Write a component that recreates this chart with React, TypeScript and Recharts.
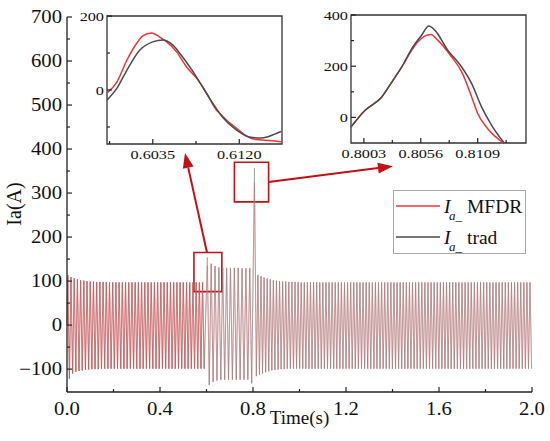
import React from 'react';
import { LineChart, Line, XAxis, YAxis, ReferenceArea, ReferenceLine, Legend } from 'recharts';

// Main trace: one peak and one trough per cycle.
const PRE_PERIOD = 0.0138;
const FAULT_START = 0.6;
const FAULT_FIRST_PEAK = 0.6035;
const FAULT_PERIOD = 0.0166;
const SPIKE_T = 0.8063;
const SPIKE_TROUGH_T = 0.8145;
const POST_PERIOD = 0.0133;

const prePeaks = [
  113, 109, 106, 104, 102, 101, 100, 99, 99, 98,
  98, 98, 98, 97, 97, 97, 97, 97, 97, 97,
  97, 97, 97, 97, 97, 97, 97, 97, 97, 97,
  97, 97, 97, 97, 97, 97, 97, 97, 97, 97,
  97, 97, 97,
];
const preTroughs = [
  -122, -110, -106, -104, -103, -102, -101, -100, -100, -100,
  -99, -99, -99, -99, -99, -99, -99, -99, -99, -99,
  -99, -99, -99, -99, -99, -99, -99, -99, -99, -99,
  -99, -99, -99, -99, -99, -99, -99, -99, -99, -99,
  -99, -99, -99,
];

const faultPeaksMfdr = [154, 140, 134, 131, 130, 130, 130, 130, 130, 129, 129, 129];
const faultPeaksTrad = [135, 139, 134, 131, 130, 130, 130, 130, 130, 129, 129, 129];
const faultTroughs = [-136, -129, -126, -125, -124, -124, -124, -124, -124, -124, -124, -132];

const spikeMfdr = 324;
const spikeTrad = 357;
const spikeTrough = -116;

const postPeaks = [
  114, 111, 108, 106, 104, 102, 101, 100, 99, 99,
  98, 98, 98, 98, 97, 97, 97, 97, 97, 97,
  97, 97, 97, 97, 97, 97, 97, 97, 97, 97,
  97, 97, 97, 97, 97, 97, 97, 97, 97, 97,
  97, 97, 97, 97, 97, 97, 97, 97, 97, 97,
  97, 97, 97, 97, 97, 97, 97, 97, 97, 97,
  97, 97, 97, 97, 97, 97, 97, 97, 97, 97,
  97, 97, 97, 97, 97, 97, 97, 97, 97, 97,
  97, 97, 97, 97, 97, 97, 97, 97, 97,
];
const postTroughs = [
  -113, -110, -107, -105, -103, -102, -101, -100, -100, -99,
  -99, -99, -99, -99, -99, -99, -99, -99, -99, -99,
  -99, -99, -99, -99, -99, -99, -99, -99, -99, -99,
  -99, -99, -99, -99, -99, -99, -99, -99, -99, -99,
  -99, -99, -99, -99, -99, -99, -99, -99, -99, -99,
  -99, -99, -99, -99, -99, -99, -99, -99, -99, -99,
  -99, -99, -99, -99, -99, -99, -99, -99, -99, -99,
  -99, -99, -99, -99, -99, -99, -99, -99, -99, -99,
  -99, -99, -99, -99, -99, -99, -99, -99, -99,
];

// zoomed views
const leftMfdrT = [0.59901, 0.59998, 0.60096, 0.60194, 0.60252, 0.6034, 0.60418, 0.60487, 0.60584, 0.60682, 0.6078, 0.60878, 0.60975, 0.61005, 0.61073, 0.61171, 0.61268, 0.61327, 0.61425, 0.61542, 0.6161];
const leftMfdrV = [-8, 22, 81, 127, 146, 154, 143, 130, 103, 62, 32, -8, -54, -62, -81, -103, -124, -132, -135, -138, -140];
const leftTradT = [0.59901, 0.59998, 0.60096, 0.60223, 0.6035, 0.60448, 0.60545, 0.60643, 0.6078, 0.60907, 0.61034, 0.61171, 0.61298, 0.61415, 0.61474, 0.61542, 0.6161];
const leftTradV = [-27, 5, 54, 108, 130, 135, 122, 89, 35, -22, -73, -108, -127, -130, -127, -120, -112];

const rightMfdrT = [0.79909, 0.80039, 0.80197, 0.8029, 0.80383, 0.80476, 0.80532, 0.80653, 0.80718, 0.80848, 0.80941, 0.81034, 0.8109, 0.81183, 0.81341];
const rightMfdrV = [-38, 27, 80, 138, 197, 263, 295, 324, 302, 236, 178, 80, 15, -44, -102];
const rightTradT = [0.79909, 0.80039, 0.80197, 0.8029, 0.80383, 0.80476, 0.80569, 0.80634, 0.8069, 0.80811, 0.80941, 0.81034, 0.81127, 0.8122, 0.81341];
const rightTradV = [-38, 27, 80, 138, 197, 269, 322, 357, 341, 263, 197, 132, 40, -31, -102];

const mainXTicks = [0, 0.2, 0.4, 0.6, 0.8, 1.0, 1.2, 1.4, 1.6, 1.8, 2.0];
const mainXLabels = [0, 0.4, 0.8, 1.2, 1.6, 2.0];
const mainYTicks = [-100, -50, 0, 50, 100, 150, 200, 250, 300, 350, 400, 450, 500, 550, 600, 650, 700];
const mainYLabels = [-100, 0, 100, 200, 300, 400, 500, 600, 700];

const leftXTicks = [0.59925, 0.6035, 0.60775, 0.612];
const leftXLabels = [0.6035, 0.612];
const leftYTicks = [-100, 0, 100, 200];
const leftYLabels = [0, 200];

const rightXTicks = [0.80295, 0.8003, 0.8056, 0.80825, 0.8109, 0.81355];
const rightXLabels = [0.8003, 0.8056, 0.8109];
const rightYTicks = [0, 100, 200, 300, 400];
const rightYLabels = [0, 200, 400];

const FONT = "'Times New Roman', 'Liberation Serif', Times, 'DejaVu Serif', serif";
const RED = '#f03434';
const GRAY = '#4a4a4a';
const BOX_RED = '#c40f14';

type Row = { t: number; mfdr: number; trad: number; mfdrPre?: number };

function buildMain() {
  const rows: Row[] = [{ t: 0, mfdr: 0, trad: 0 }];
  prePeaks.forEach((p, i) => {
    rows.push({ t: (i + 0.25) * PRE_PERIOD, mfdr: p, trad: p });
    rows.push({ t: (i + 0.75) * PRE_PERIOD, mfdr: preTroughs[i], trad: preTroughs[i] });
  });
  faultPeaksMfdr.forEach((p, i) => {
    rows.push({ t: FAULT_FIRST_PEAK + i * FAULT_PERIOD, mfdr: p, trad: faultPeaksTrad[i] });
    rows.push({ t: FAULT_FIRST_PEAK + (i + 0.5) * FAULT_PERIOD, mfdr: faultTroughs[i], trad: faultTroughs[i] });
  });
  rows.push({ t: SPIKE_T, mfdr: spikeMfdr, trad: spikeTrad });
  rows.push({ t: SPIKE_TROUGH_T, mfdr: spikeTrough, trad: spikeTrough });
  postPeaks.forEach((p, i) => {
    rows.push({ t: SPIKE_TROUGH_T + (i + 0.5) * POST_PERIOD, mfdr: p, trad: p });
    rows.push({ t: SPIKE_TROUGH_T + (i + 1) * POST_PERIOD, mfdr: postTroughs[i], trad: postTroughs[i] });
  });
  // the red trace sits on top before the fault, the grey one after it
  rows.forEach((r) => {
    if (r.t < FAULT_START) r.mfdrPre = r.mfdr;
  });
  return rows;
}

const zip = (ts: number[], vs: number[]) => ts.map((t, i) => ({ t, v: vs[i] }));

const mainRows = buildMain();
const has = (list: number[], v: number) => list.some((l) => Math.abs(l - v) < 1e-7);
const txt = { fontFamily: FONT, fill: '#111' };

// ticks point inward, labels are slightly wide in the picture
const makeXTick = (labels: number[], bottom: number, size: number, sx: number, digits: number, gap: number) =>
  (props: any) => {
    const { x, payload } = props;
    const major = has(labels, payload.value);
    return (
      <g>
        <line x1={x} x2={x} y1={bottom} y2={bottom - (major ? 5 : 3)} stroke="#222" strokeWidth={1.2} />
        {major && (
          <text transform={`translate(${x},${bottom + gap}) scale(${sx},1)`} textAnchor="middle" style={{ ...txt, fontSize: size }}>
            {payload.value.toFixed(digits)}
          </text>
        )}
      </g>
    );
  };

const makeYTick = (labels: number[], left: number, size: number, sx: number, gap: number) =>
  (props: any) => {
    const { y, payload } = props;
    const major = has(labels, payload.value);
    const v = payload.value < 0 ? `\u2212${-payload.value}` : `${payload.value}`;
    return (
      <g>
        <line x1={left} x2={left + (major ? 5 : 3)} y1={y} y2={y} stroke="#222" strokeWidth={1.2} />
        {major && (
          <text transform={`translate(${left - gap},${y}) scale(${sx},1)`} dy="0.35em" textAnchor="end" style={{ ...txt, fontSize: size }}>
            {v}
          </text>
        )}
      </g>
    );
  };

const arrowShape = (props: any) => {
  const { x1, y1, x2, y2 } = props;
  const a = Math.atan2(y2 - y1, x2 - x1);
  const len = 15;
  const half = 5.5;
  const bx = x2 - len * Math.cos(a);
  const by = y2 - len * Math.sin(a);
  const px = -Math.sin(a) * half;
  const py = Math.cos(a) * half;
  return (
    <g>
      <line x1={x1} y1={y1} x2={bx} y2={by} stroke={BOX_RED} strokeWidth={2} />
      <polygon points={`${x2},${y2} ${bx + px},${by + py} ${bx - px},${by - py}`} fill={BOX_RED} />
    </g>
  );
};

const renderLegend = (props: any) => {
  const items = (props.payload || []).filter((it: any) => it.type !== 'none');
  return (
    <div style={{ width: 131, height: 62, border: '1px solid #a8a8a8', background: '#fff' }}>
      <svg width={131} height={62}>
        {items.map((it: any, i: number) => {
          const ly = 15 + i * 31;
          return (
            <g key={i}>
              <line x1={2} x2={46} y1={ly} y2={ly} stroke={i === 0 ? RED : GRAY} strokeWidth={1.5} />
              <text y={ly + 7} style={{ ...txt, fontSize: 19.5 }}>
                <tspan x={50} fontStyle="italic">I</tspan>
                <tspan x={55} dy={7} fontSize={13} fontStyle="italic">a_</tspan>
                <tspan x={73} dy={-7}>{it.value}</tspan>
              </text>
            </g>
          );
        })}
      </svg>
    </div>
  );
};

const timeLabel = (props: any) => {
  const vb = props.viewBox || { x: 67, width: 465 };
  return (
    <text x={vb.x + vb.width / 2} y={424} textAnchor="middle" style={{ ...txt, fontSize: 19 }}>
      Time(s)
    </text>
  );
};

const currentLabel = () => (
  <text transform="translate(21,204) rotate(-90)" textAnchor="middle" style={{ ...txt, fontSize: 20 }}>
    Ia(A)
  </text>
);

function LeftInset() {
  return (
    <div style={{ position: 'absolute', left: 60, top: 0 }}>
      <LineChart width={230} height={175} margin={{ top: 16, right: 8, bottom: 6, left: 0 }}>
        <XAxis dataKey="t" type="number" domain={[0.599, 0.6162]} allowDataOverflow ticks={leftXTicks} interval={0}
          tick={makeXTick(leftXLabels, 144, 13, 1.25, 4, 15)} tickLine={false} axisLine={false} height={25} />
        <YAxis type="number" domain={[-146, 200]} allowDataOverflow ticks={leftYTicks} interval={0}
          tick={makeYTick(leftYLabels, 47, 13, 1.25, 3)} tickLine={false} axisLine={false} width={47} />
        <ReferenceArea x1={0.599} x2={0.6162} y1={-146} y2={200} fill="none" stroke="#333" strokeWidth={1.3} />
        <Line data={zip(leftMfdrT, leftMfdrV)} dataKey="v" type="monotone" stroke={RED} strokeWidth={1.5} dot={false} isAnimationActive={false} />
        <Line data={zip(leftTradT, leftTradV)} dataKey="v" type="monotone" stroke={GRAY} strokeWidth={1.5} dot={false} isAnimationActive={false} />
      </LineChart>
    </div>
  );
}

function RightInset() {
  return (
    <div style={{ position: 'absolute', left: 300, top: 0 }}>
      <LineChart width={235} height={175} margin={{ top: 15, right: 9, bottom: 7, left: 0 }}>
        <XAxis dataKey="t" type="number" domain={[0.7991, 0.8154]} allowDataOverflow ticks={rightXTicks} interval={0}
          tick={makeXTick(rightXLabels, 143, 13, 1.25, 4, 15)} tickLine={false} axisLine={false} height={25} />
        <YAxis type="number" domain={[-100, 400]} allowDataOverflow ticks={rightYTicks} interval={0}
          tick={makeYTick(rightYLabels, 51, 13, 1.25, 3)} tickLine={false} axisLine={false} width={51} />
        <ReferenceArea x1={0.7991} x2={0.8154} y1={-100} y2={400} fill="none" stroke="#333" strokeWidth={1.3} />
        <Line data={zip(rightMfdrT, rightMfdrV)} dataKey="v" type="monotone" stroke={RED} strokeWidth={1.5} dot={false} isAnimationActive={false} />
        <Line data={zip(rightTradT, rightTradV)} dataKey="v" type="monotone" stroke={GRAY} strokeWidth={1.5} dot={false} isAnimationActive={false} />
      </LineChart>
    </div>
  );
}

export default function App() {
  return (
    <div style={{ position: 'absolute', left: 0, top: 0, width: 550, height: 441, background: '#fff', fontFamily: FONT }}>
      <LineChart width={550} height={441} data={mainRows} margin={{ top: 17, right: 18, bottom: 19, left: 0 }}>
        <XAxis dataKey="t" type="number" domain={[0, 2]} ticks={mainXTicks} interval={0}
          tick={makeXTick(mainXLabels, 392, 18, 1.15, 1, 23)} tickLine={false}
          axisLine={{ stroke: '#222', strokeWidth: 1.3 }} height={30}
          label={{ content: timeLabel }} />
        <YAxis type="number" domain={[-152, 700]} allowDataOverflow ticks={mainYTicks} interval={0}
          tick={makeYTick(mainYLabels, 67, 18, 1.15, 5)} tickLine={false}
          axisLine={{ stroke: '#222', strokeWidth: 1.3 }} width={67}
          label={{ content: currentLabel }} />
        <Line dataKey="mfdr" name="MFDR" type="linear" stroke={RED} strokeWidth={0.6} strokeOpacity={0.7} dot={false} isAnimationActive={false} legendType="line" />
        <Line dataKey="trad" name="trad" type="linear" stroke="#8a8a8a" strokeWidth={0.6} strokeOpacity={0.9} dot={false} isAnimationActive={false} legendType="line" />
        <Line dataKey="mfdrPre" type="linear" stroke={RED} strokeWidth={0.55} strokeOpacity={0.6} dot={false} isAnimationActive={false} legendType="none" connectNulls={false} />
        <ReferenceArea x1={0.546} x2={0.666} y1={76} y2={165} fill="none" stroke={BOX_RED} strokeWidth={1.6} />
        <ReferenceArea x1={0.72} x2={0.867} y1={280} y2={370} fill="none" stroke={BOX_RED} strokeWidth={1.6} />
        <ReferenceLine segment={[{ x: 0.602, y: 165 }, { x: 0.5075, y: 391 }]} shape={arrowShape} />
        <ReferenceLine segment={[{ x: 0.867, y: 325 }, { x: 1.402, y: 361 }]} shape={arrowShape} />
        <Legend layout="horizontal" verticalAlign="middle" align="center" content={renderLegend}
          wrapperStyle={{ left: 393, top: 190, width: 133, height: 64 }} />
      </LineChart>
      <LeftInset />
      <RightInset />
    </div>
  );
}
